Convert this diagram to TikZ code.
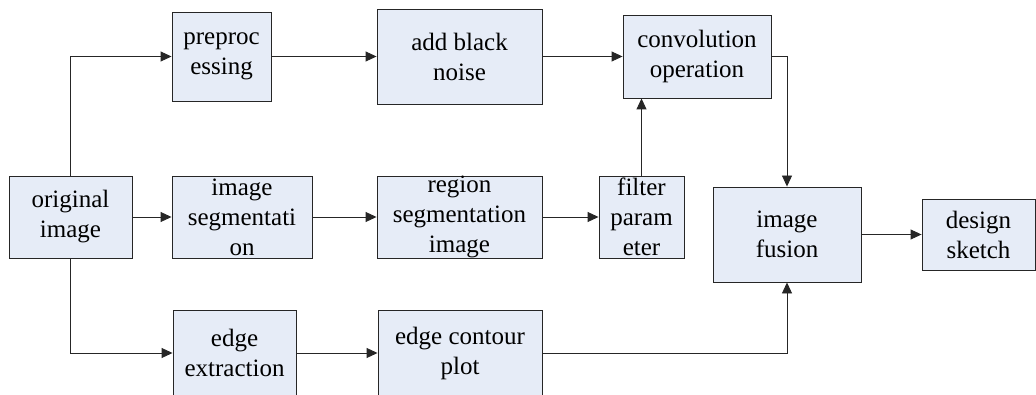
\documentclass[tikz,border=0pt]{standalone}
\usepackage{fontspec}
\setmainfont{Liberation Serif}
\newfontfamily\blkfont{Liberation Serif}
\usetikzlibrary{arrows.meta}
\definecolor{boxfill}{RGB}{230,236,247}
\begin{document}
\begin{tikzpicture}[x=1pt,y=1pt,
        blk/.style={draw=black!85, line width=0.9pt, fill=boxfill, inner sep=0pt, align=center,
            font=\blkfont\fontsize{25}{30}\selectfont},
        arr/.style={draw=black!85, line width=0.9pt, -{Triangle[length=11pt,width=10pt]}}]
        \useasboundingbox (0,0) rectangle (1036,394);

        % input
        \node[blk, minimum width=123, minimum height=82] (orig) at (70.5,177) {original\\image};

        % upper row
        \node[blk, minimum width=99, minimum height=89] (prep) at (221.5,337.5) {preproc\\essing};
        \node[blk, minimum width=165, minimum height=95] (noise) at (459.5,337.5) {add black\\noise};
        \node[blk, minimum width=148, minimum height=83] (conv) at (697,337.5) {convolution\\operation};

        % middle row
        \node[blk, minimum width=140, minimum height=82] (seg) at (242,177) {image\\segmentati\\on};
        \node[blk, minimum width=165, minimum height=82] (region) at (459.5,177) {region\\segmentation\\image};
        \node[blk, minimum width=85, minimum height=82] (filter) at (641.5,177) {filter\\param\\eter};

        % lower row
        \node[blk, minimum width=123, minimum height=85] (edge) at (234.5,41) {edge\\extraction};
        \node[blk, minimum width=164, minimum height=85] (contour) at (460,41) {edge contour\\plot};

        % output
        \node[blk, minimum width=148, minimum height=95] (fusion) at (787,159.5) {image\\fusion};
        \node[blk, minimum width=113, minimum height=71] (sketch) at (978.5,159.5) {design\\sketch};

        % connectors
        \draw[arr] (orig.north) |- (prep.west);
        \draw[arr] (orig.east) -- (seg.west);
        \draw[arr] (orig.south) |- (edge.west);
        \draw[arr] (prep.east) -- (noise.west);
        \draw[arr] (noise.east) -- (conv.west);
        \draw[arr] (seg.east) -- (region.west);
        \draw[arr] (region.east) -- (filter.west);
        \draw[arr] (filter.north) -- (filter.north |- conv.south);
        \draw[arr] (edge.east) -- (contour.west);
        \draw[arr] (conv.east) -| (fusion.north);
        \draw[arr] (contour.east) -| (fusion.south);
        \draw[arr] (fusion.east) -- (sketch.west);
    \end{tikzpicture}
\end{document}
